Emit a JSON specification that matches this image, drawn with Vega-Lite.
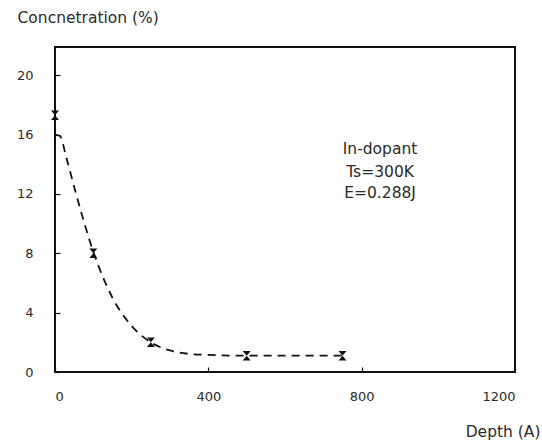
{
  "$schema": "https://vega.github.io/schema/vega-lite/v6.json",
  "width": 460,
  "height": 325,
  "autosize": {"type": "none"},
  "padding": {"left": 55, "top": 47, "right": 27, "bottom": 70},
  "background": "white",
  "config": {
    "view": {"stroke": "#111", "strokeWidth": 2},
    "font": "DejaVu Sans",
    "axis": {"labelFont": "DejaVu Sans", "titleFont": "DejaVu Sans", "labelFontSize": 13, "titleFontSize": 15.5, "labelColor": "#2a2a2a", "titleColor": "#2a2a2a", "titleFontWeight": "normal", "grid": false, "domain": false, "tickColor": "#111", "tickWidth": 1.2}
  },
  "layer": [
    {
      "data": {"values": [
        {"depth": 0, "conc": 16.0},
        {"depth": 13, "conc": 15.9},
        {"depth": 30, "conc": 14.4},
        {"depth": 55, "conc": 12.0},
        {"depth": 100, "conc": 8.1},
        {"depth": 150, "conc": 5.0},
        {"depth": 200, "conc": 3.1},
        {"depth": 250, "conc": 2.0},
        {"depth": 300, "conc": 1.45},
        {"depth": 350, "conc": 1.22},
        {"depth": 400, "conc": 1.15},
        {"depth": 500, "conc": 1.1},
        {"depth": 750, "conc": 1.1}
      ]},
      "mark": {"type": "line", "color": "#111", "strokeWidth": 1.8, "strokeDash": [8, 6], "interpolate": "monotone"},
      "encoding": {
        "x": {"field": "depth", "type": "quantitative", "scale": {"domain": [0, 1200], "nice": false}, "axis": {"values": [0, 400, 800, 1200], "format": "d", "tickSize": -5, "labelPadding": 23, "title": "Depth (A)", "titleAngle": 0, "titleX": 485, "titleY": 59, "titleAlign": "right", "titleBaseline": "middle"}},
        "y": {"field": "conc", "type": "quantitative", "scale": {"domain": [0, 21.9], "nice": false}, "axis": {"values": [0, 4, 8, 12, 16, 20], "tickSize": -5, "labelPadding": 27, "title": "Concnetration (%)", "titleAngle": 0, "titleX": -38, "titleY": -30, "titleAlign": "left", "titleBaseline": "middle"}}
      }
    },
    {
      "data": {"values": [
        {"depth": 0, "conc": 17.3},
        {"depth": 100, "conc": 8.0},
        {"depth": 250, "conc": 2.0},
        {"depth": 500, "conc": 1.1},
        {"depth": 750, "conc": 1.1}
      ]},
      "mark": {"type": "point", "shape": "M-1,-1.2L1,-1.2L-1,1.2L1,1.2Z", "filled": true, "color": "#111", "size": 64, "opacity": 1},
      "encoding": {
        "x": {"field": "depth", "type": "quantitative"},
        "y": {"field": "conc", "type": "quantitative"}
      }
    },
    {
      "data": {"values": [
        {"depth": 848, "conc": 15.0, "label": "In-dopant"},
        {"depth": 848, "conc": 13.5, "label": "Ts=300K"},
        {"depth": 848, "conc": 12.05, "label": "E=0.288J"}
      ]},
      "mark": {"type": "text", "font": "DejaVu Sans", "fontSize": 15.5, "color": "#2a2a2a", "align": "center", "baseline": "middle"},
      "encoding": {
        "x": {"field": "depth", "type": "quantitative"},
        "y": {"field": "conc", "type": "quantitative"},
        "text": {"field": "label"}
      }
    }
  ]
}
